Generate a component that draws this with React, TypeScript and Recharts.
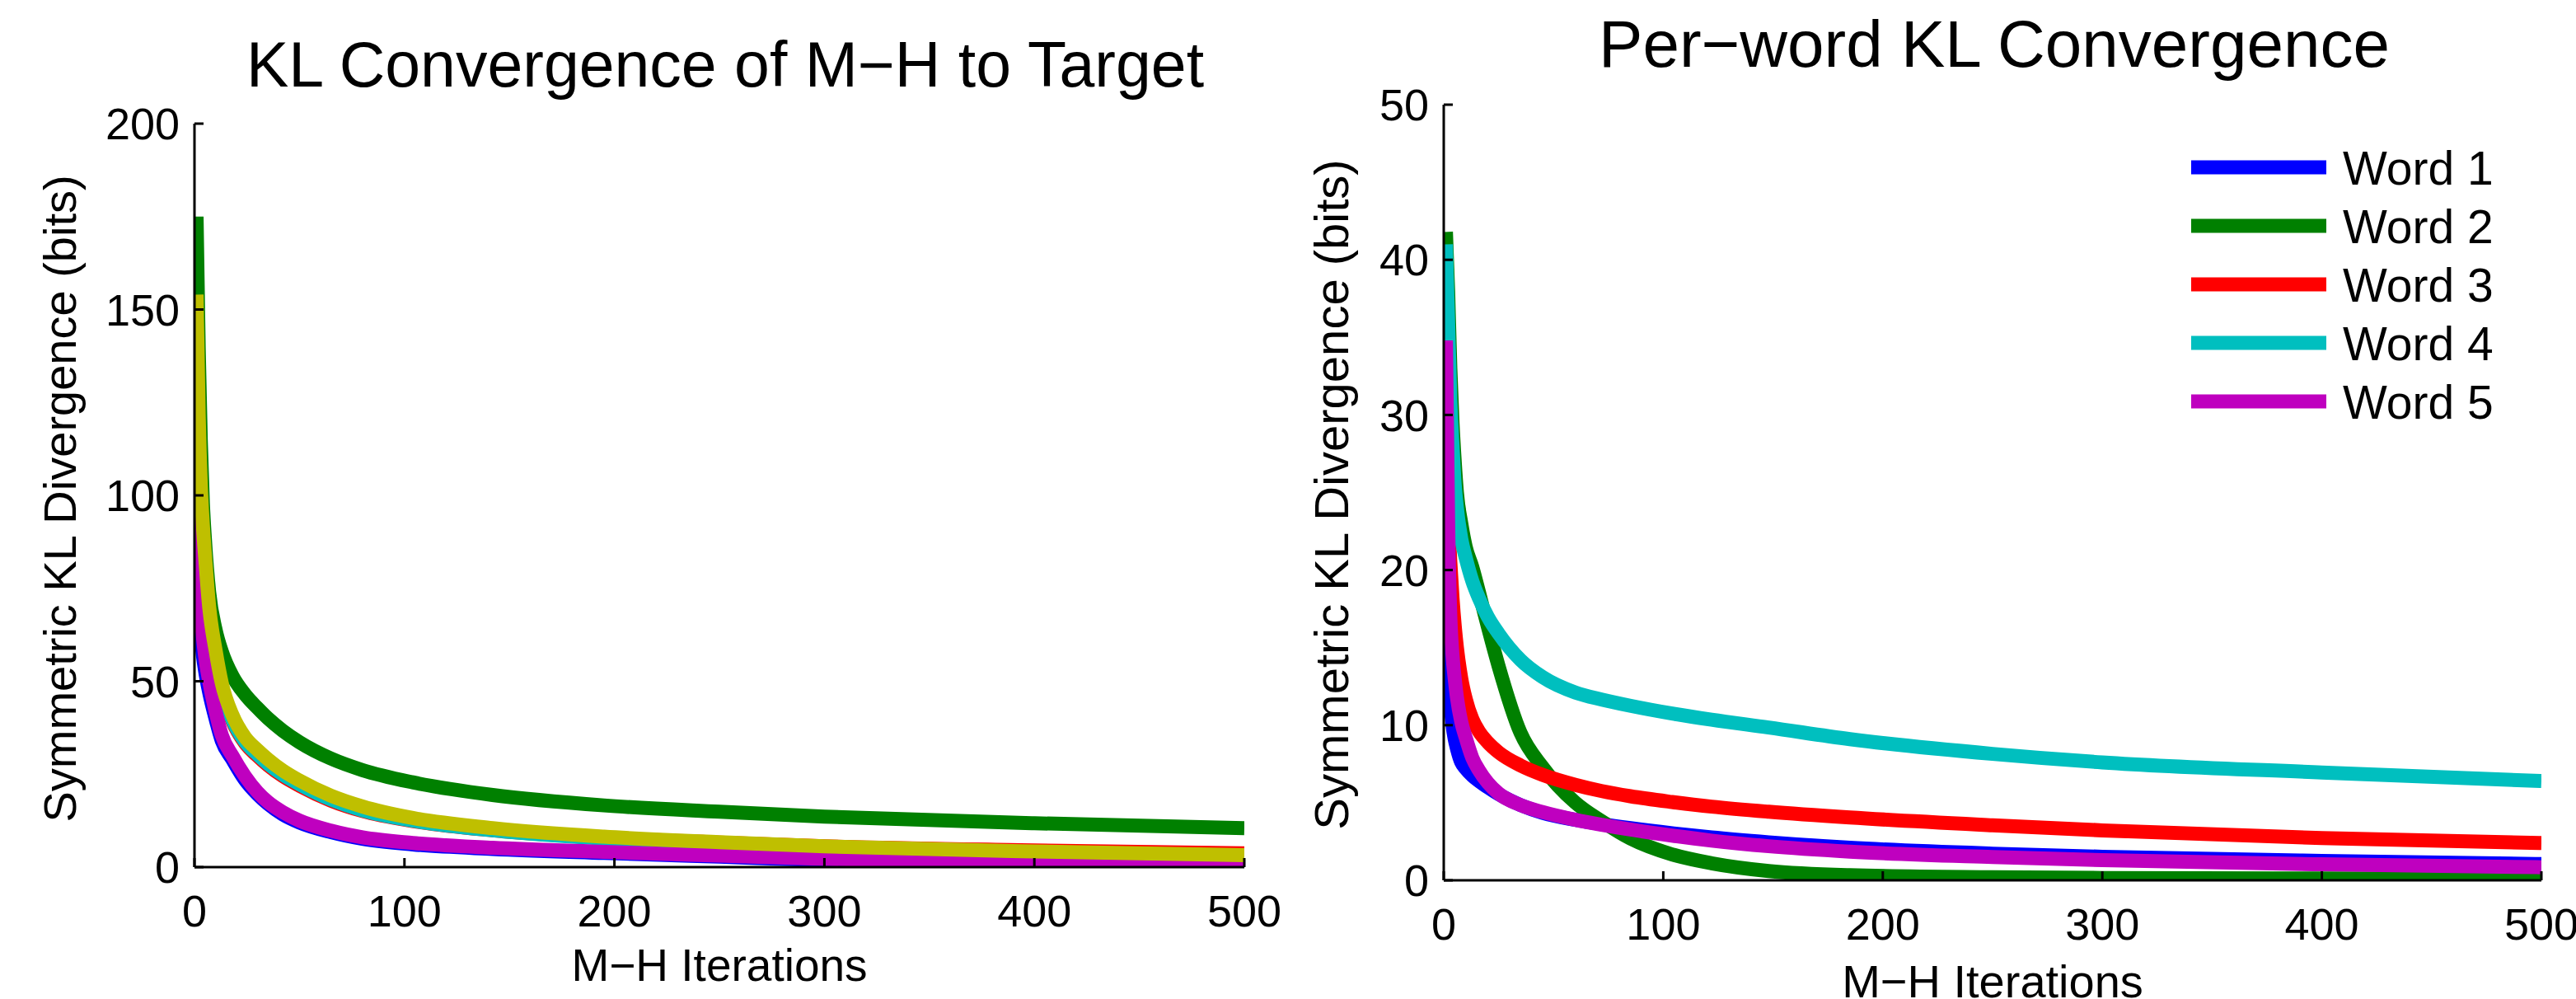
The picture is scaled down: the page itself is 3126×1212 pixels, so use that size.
import React from "react";
import { LineChart, Line, XAxis, YAxis, Legend } from "recharts";

const FONT = '"Liberation Sans", Arial, Helvetica, sans-serif';

// ---- left panel: total KL per run ----
const leftIters = [1, 2, 3, 4, 5, 7, 10, 13, 18, 24, 30, 35, 42, 50, 65, 80, 104, 142, 195, 250, 300, 400, 500];
const leftBlue = [79, 68, 62, 57, 53, 47, 40, 34, 29, 23.5, 19.6, 17, 14.2, 12, 9.4, 7.6, 6.1, 4.9, 3.8, 2.8, 1.9, 0.9, 0.2];
const leftGreen = [175, 140, 115, 98, 88, 74, 64, 58, 51.5, 46.5, 42.8, 40, 36.7, 33.6, 29.2, 26.1, 22.8, 19.4, 16.6, 14.9, 13.6, 11.8, 10.5];
const leftRed = [115, 100, 90, 82, 76, 65.5, 55.5, 47.4, 39.3, 33.4, 29.9, 27.4, 24.5, 21.9, 17.9, 15.1, 12.4, 9.9, 7.9, 6.6, 5.6, 4.5, 3.7];
const leftCyan = [130, 110, 96, 87, 80, 67.5, 56.5, 48, 39.7, 33.8, 30.3, 27.8, 24.9, 22.3, 18.2, 15.3, 12.5, 9.9, 7.7, 6.3, 5.2, 3.9, 2.9];
const leftMagenta = [99, 78, 68, 62, 57, 50, 42, 35.5, 30, 24.5, 20.2, 17.5, 14.8, 12.5, 9.8, 8.0, 6.5, 5.2, 4.1, 3.1, 2.2, 1.2, 0.4];
const leftYellow = [154, 122, 103, 92, 84, 70, 58.5, 49.5, 41, 35, 31.5, 29, 26, 23.3, 19.2, 16.3, 13.2, 10.5, 8.2, 6.7, 5.6, 4.2, 3.2];

// ---- right panel: per-word KL ----
const rightIters = [1, 2, 3, 4, 5, 6, 8, 10, 13, 16, 20, 25, 35, 45, 60, 72, 85, 104, 122, 148, 185, 250, 300, 400, 500];
const word1 = [22, 14, 11.5, 10, 9.1, 8.5, 7.6, 7.2, 6.75, 6.4, 6.0, 5.55, 4.85, 4.35, 3.9, 3.62, 3.36, 3.03, 2.76, 2.45, 2.1, 1.72, 1.52, 1.25, 1.05];
const word2 = [41.8, 38, 33, 29.5, 27, 25, 23, 21.5, 20.2, 18.6, 16.4, 13.8, 9.5, 7.3, 5, 3.8, 2.7, 1.67, 1.1, 0.6, 0.33, 0.2, 0.15, 0.12, 0.1];
const word3 = [28, 23.5, 20.5, 18.2, 16.4, 15, 13, 11.7, 10.4, 9.6, 8.9, 8.25, 7.4, 6.8, 6.15, 5.75, 5.42, 5.05, 4.75, 4.42, 4.05, 3.55, 3.22, 2.72, 2.4];
const word4 = [41, 36, 31, 28, 25.5, 24, 22, 20.8, 19.3, 18.2, 17, 15.9, 14.2, 13.1, 12.1, 11.65, 11.25, 10.75, 10.35, 9.85, 9.1, 8.15, 7.6, 6.95, 6.4];
const word5 = [34.8, 23, 17, 14.5, 13, 11.8, 10.2, 9.2, 7.9, 7.1, 6.3, 5.6, 4.85, 4.4, 3.9, 3.58, 3.27, 2.88, 2.56, 2.2, 1.85, 1.5, 1.3, 1.03, 0.84];

const xTicks = [0, 100, 200, 300, 400, 500];
const leftYTicks = [0, 50, 100, 150, 200];
const rightYTicks = [0, 10, 20, 30, 40, 50];

const leftSeries = [
  { key: "s1", color: "#0000FF", values: leftBlue },
  { key: "s2", color: "#008000", values: leftGreen },
  { key: "s3", color: "#FF0000", values: leftRed },
  { key: "s4", color: "#00BFBF", values: leftCyan },
  { key: "s5", color: "#BF00BF", values: leftMagenta },
  { key: "s6", color: "#BFBF00", values: leftYellow },
];

const rightSeries = [
  { key: "w1", name: "Word 1", color: "#0000FF", values: word1 },
  { key: "w2", name: "Word 2", color: "#008000", values: word2 },
  { key: "w3", name: "Word 3", color: "#FF0000", values: word3 },
  { key: "w4", name: "Word 4", color: "#00BFBF", values: word4 },
  { key: "w5", name: "Word 5", color: "#BF00BF", values: word5 },
];

const buildRows = (iters: number[], series: { key: string; values: number[] }[]) =>
  iters.map((it, i) => {
    const row: Record<string, number> = { it };
    series.forEach((s) => (row[s.key] = s.values[i]));
    return row;
  });

const leftData = buildRows(leftIters, leftSeries);
const rightData = buildRows(rightIters, rightSeries);

const LINE_W = 17;
const axisLine = { stroke: "#000", strokeWidth: 3 };
const tickStyle = { fill: "#000", fontSize: 54, fontFamily: FONT };

function WordLegend(props: any) {
  const items = props.payload || [];
  return (
    <svg width={460} height={400} style={{ display: "block", overflow: "visible" }}>
      {items.map((p: any, i: number) => {
        const y = 48 + i * 71;
        return (
          <g key={p.value}>
            <line x1={0} x2={164} y1={y} y2={y} stroke={p.color} strokeWidth={LINE_W} />
            <text x={184} y={y + 21} fontSize={57} fontFamily={FONT} fill="#000">
              {p.value}
            </text>
          </g>
        );
      })}
    </svg>
  );
}

export default function App() {
  return (
    <div
      style={{
        position: "absolute",
        left: 0,
        top: 0,
        width: 3126,
        height: 1212,
        background: "#fff",
        overflow: "hidden",
      }}
    >
      <div style={{ position: "absolute", left: 0, top: 0 }}>
        <LineChart
          width={1560}
          height={1212}
          data={leftData}
          margin={{ top: 150, right: 50, bottom: 80, left: 36 }}
        >
          <XAxis
            type="number"
            dataKey="it"
            domain={[0, 500]}
            ticks={xTicks}
            interval={0}
            allowDataOverflow
            height={80}
            axisLine={axisLine}
            tickLine={axisLine}
            tickSize={-11}
            tickMargin={45}
            tick={tickStyle}
          />
          <YAxis
            type="number"
            domain={[0, 200]}
            ticks={leftYTicks}
            interval={0}
            allowDataOverflow
            width={200}
            axisLine={axisLine}
            tickLine={axisLine}
            tickSize={-11}
            tickMargin={29}
            tick={tickStyle}
          />
          {leftSeries.map((s) => (
            <Line
              key={s.key}
              dataKey={s.key}
              type="monotoneX"
              stroke={s.color}
              strokeWidth={LINE_W}
              dot={false}
              activeDot={false}
              isAnimationActive={false}
            />
          ))}
        </LineChart>
      </div>

      <div style={{ position: "absolute", left: 1560, top: 0 }}>
        <LineChart
          width={1566}
          height={1212}
          data={rightData}
          margin={{ top: 127, right: 42, bottom: 64, left: 12 }}
        >
          <XAxis
            type="number"
            dataKey="it"
            domain={[0, 500]}
            ticks={xTicks}
            interval={0}
            allowDataOverflow
            height={80}
            axisLine={axisLine}
            tickLine={axisLine}
            tickSize={-11}
            tickMargin={45}
            tick={tickStyle}
          />
          <YAxis
            type="number"
            domain={[0, 50]}
            ticks={rightYTicks}
            interval={0}
            allowDataOverflow
            width={180}
            axisLine={axisLine}
            tickLine={axisLine}
            tickSize={-11}
            tickMargin={29}
            tick={tickStyle}
          />
          <Legend
            layout="vertical"
            align="center"
            verticalAlign="middle"
            content={WordLegend}
            wrapperStyle={{ left: 2659 - 1560, top: 155, width: 460, height: 400 }}
          />
          {rightSeries.map((s) => (
            <Line
              key={s.key}
              dataKey={s.key}
              name={s.name}
              type="monotoneX"
              stroke={s.color}
              strokeWidth={LINE_W}
              dot={false}
              activeDot={false}
              isAnimationActive={false}
            />
          ))}
        </LineChart>
      </div>

      <svg
        width={3126}
        height={1212}
        style={{ position: "absolute", left: 0, top: 0, pointerEvents: "none" }}
        fontFamily={FONT}
        fill="#000"
      >
        <text x={880} y={105} fontSize={77} textAnchor="middle">
          KL Convergence of M−H to Target
        </text>
        <text x={2420} y={81} fontSize={80} textAnchor="middle">
          Per−word KL Convergence
        </text>
        <text x={873} y={1190} fontSize={55} textAnchor="middle">
          M−H Iterations
        </text>
        <text x={2418} y={1210} fontSize={56} textAnchor="middle">
          M−H Iterations
        </text>
        <text x={92} y={605} fontSize={56} textAnchor="middle" transform="rotate(-90 92 605)">
          Symmetric KL Divergence (bits)
        </text>
        <text x={1636} y={600} fontSize={58} textAnchor="middle" transform="rotate(-90 1636 600)">
          Symmetric KL Divergence (bits)
        </text>
      </svg>
    </div>
  );
}
